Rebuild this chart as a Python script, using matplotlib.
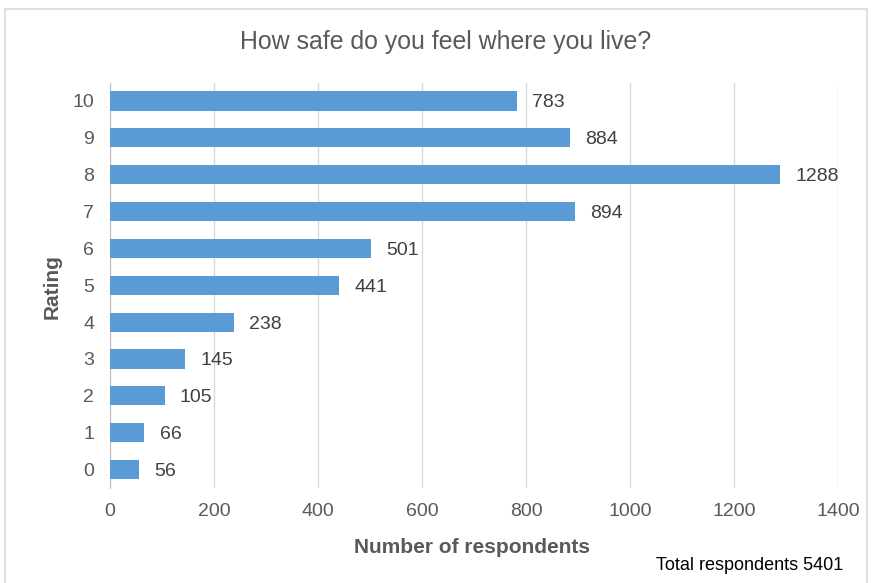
import matplotlib
matplotlib.use("Agg")
import matplotlib.pyplot as plt
from matplotlib.patches import Rectangle

plt.rcParams['font.family'] = ['Liberation Sans', 'DejaVu Sans']

ratings = ['0', '1', '2', '3', '4', '5', '6', '7', '8', '9', '10']
counts = [56, 66, 105, 145, 238, 441, 501, 894, 1288, 884, 783]
x_ticks = [0, 200, 400, 600, 800, 1000, 1200, 1400]

bar_color = '#5B9BD5'
text_gray = '#595959'
grid_gray = '#D9D9D9'

W, H = 871, 583
fig = plt.figure(figsize=(W / 100, H / 100), dpi=100)
ax = fig.add_axes([110 / W, 1 - 488 / H, 728 / W, 405.5 / H])

# light frame around the chart area
fig.patches.append(Rectangle((5 / W, -0.05), 0.99, 1.05 - 9 / H, transform=fig.transFigure,
                             fill=False, edgecolor='#D9D9D9', linewidth=1.2))

ypos = list(range(len(ratings)))
ax.barh(ypos, counts, height=0.52, color=bar_color, zorder=3)
for y, v in zip(ypos, counts):
    ax.annotate(str(v), (v, y), xytext=(11, 0), textcoords='offset points',
                va='center_baseline', ha='left', fontsize=14, color='#404040')

ax.set_xlim(0, 1400)
ax.set_ylim(-0.5, len(ratings) - 0.5)
ax.set_xticks(x_ticks)
ax.set_yticks(ypos)
ax.set_yticklabels(ratings)
ax.tick_params(axis='both', length=0, labelsize=14, labelcolor=text_gray)
ax.tick_params(axis='x', pad=11)
ax.tick_params(axis='y', pad=11.5)
ax.xaxis.grid(True, color=grid_gray, linewidth=1, zorder=0)
for s in ['top', 'right', 'bottom']:
    ax.spines[s].set_visible(False)
ax.spines['left'].set_color('#BFBFBF')

fig.text(446 / W, 1 - 49 / H, 'How safe do you feel where you live?', ha='center',
         va='baseline', fontsize=17.9, color=text_gray)
fig.text(472.5 / W, 1 - 553 / H, 'Number of respondents', ha='center', va='baseline',
         fontsize=15, color=text_gray, fontweight='bold')
fig.text(52 / W, 1 - 286.5 / H, 'Rating', ha='center', va='center', rotation=90,
         fontsize=15, color=text_gray, fontweight='bold')

fig.text(843 / W, 1 - 570 / H, 'Total respondents 5401', ha='right', va='baseline',
         fontsize=13, color='black')

fig.savefig('out.png', dpi=100)
